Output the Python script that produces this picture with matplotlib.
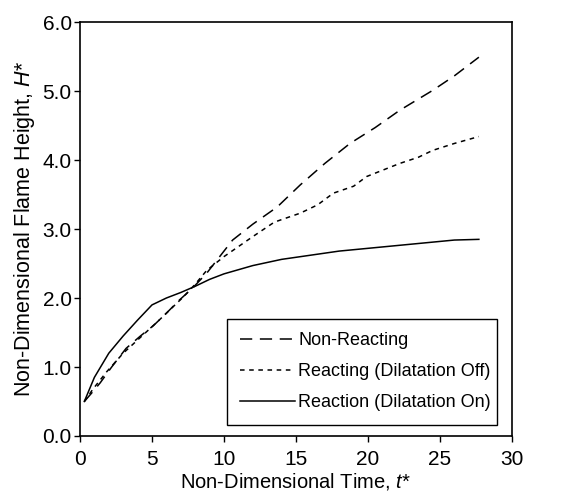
import numpy as np
import matplotlib.pyplot as plt

plt.rcParams['font.family'] = ['Liberation Sans', 'DejaVu Sans']
plt.rcParams['mathtext.fontset'] = 'custom'
plt.rcParams['mathtext.rm'] = 'Liberation Sans'
plt.rcParams['mathtext.it'] = 'Liberation Sans:italic'

# values
t_nonreact = [0.3, 0.8, 1.4, 2.2, 3.2, 4.2, 5.1, 6.0, 6.9, 7.8, 8.8, 9.7, 10.6, 12.0, 13.7, 15.3, 17.0, 18.75, 20.5, 22.2, 24.5, 26.0, 27.7]
h_nonreact = [0.5, 0.62, 0.77, 1.0, 1.27, 1.45, 1.6, 1.78, 1.97, 2.14, 2.36, 2.6, 2.84, 3.07, 3.32, 3.64, 3.95, 4.24, 4.47, 4.72, 5.01, 5.22, 5.49]

t_react_off = [0.3, 0.9, 1.85, 3.0, 4.2, 5.5, 7.2, 8.0, 8.8, 10.0, 12.0, 13.5, 15.3, 16.5, 17.6, 19.0, 19.9, 22.2, 23.5, 24.5, 26.0, 27.7]
h_react_off = [0.5, 0.68, 0.93, 1.2, 1.43, 1.68, 2.02, 2.2, 2.4, 2.6, 2.89, 3.1, 3.23, 3.35, 3.52, 3.62, 3.76, 3.95, 4.04, 4.14, 4.24, 4.34]

t_react_on = [0.3, 1.0, 2.0, 3.0, 4.0, 5.0, 6.0, 7.0, 8.0, 9.0, 10.0, 12.0, 14.0, 16.0, 18.0, 20.0, 22.0, 24.0, 26.0, 27.7]
h_react_on = [0.5, 0.85, 1.2, 1.45, 1.68, 1.9, 2.0, 2.08, 2.17, 2.27, 2.35, 2.47, 2.56, 2.62, 2.68, 2.72, 2.76, 2.8, 2.84, 2.85]

labels = ['Non-Reacting', 'Reacting (Dilatation Off)', 'Reaction (Dilatation On)']

fig = plt.figure(figsize=(5.69, 4.98), dpi=100)
ax = fig.add_axes([0.1406, 0.1245, 0.7592, 0.8313])

ax.plot(t_nonreact, h_nonreact, color='black', lw=1.1, dashes=(8, 5), label=labels[0])
ax.plot(t_react_off, h_react_off, color='black', lw=1.1, dashes=(3, 3), label=labels[1])
ax.plot(t_react_on, h_react_on, color='black', lw=1.1, label=labels[2])

ax.set_xlim(0, 30)
ax.set_ylim(0, 6)
ax.set_xticks(np.arange(0, 31, 5))
ax.set_yticks(np.arange(0, 6.1, 1.0))
ax.set_yticklabels(['%.1f' % v for v in np.arange(0, 6.1, 1.0)])
ax.tick_params(direction='out', length=4, width=1, labelsize=15, colors='black')
ax.tick_params(axis='x', pad=6)
ax.tick_params(axis='y', pad=2)
for s in ax.spines.values():
    s.set_linewidth(1.2)

ax.set_xlabel('Non-Dimensional Time, $t$*', fontsize=14.5, labelpad=1.5)
ax.set_ylabel('Non-Dimensional Flame Height, $H$*', fontsize=15.5, labelpad=4)

leg = ax.legend(loc='lower left', bbox_to_anchor=(0.34, 0.027, 0.625, 0.25),
                mode='expand', fontsize=13,
                handlelength=3.0, handletextpad=0.2, labelspacing=0.78,
                fancybox=False, edgecolor='black', framealpha=1, borderpad=0.75,
                borderaxespad=0)
leg.get_frame().set_linewidth(1.0)

fig.savefig('out.png', dpi=100)
